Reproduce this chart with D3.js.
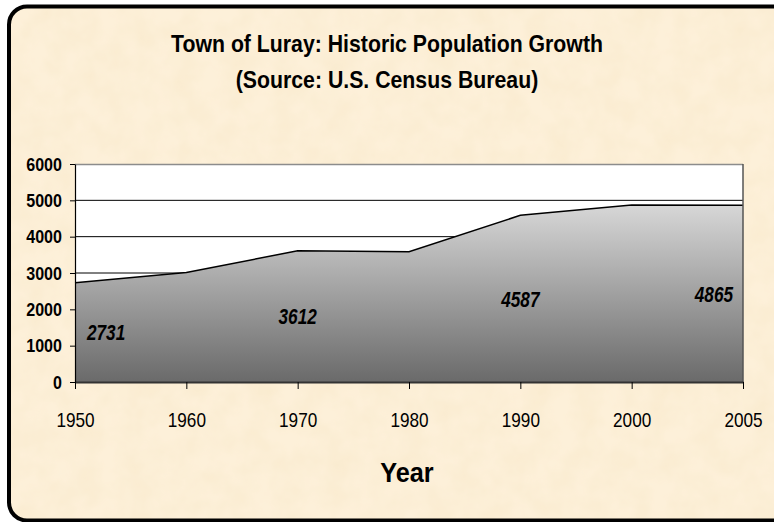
<!DOCTYPE html>
<html>
<head>
<meta charset="utf-8">
<script src="https://cdn.jsdelivr.net/npm/d3@7"></script>
<style>
  body { margin: 0; background: #fff; }
  svg { display: block; font-family: Arial, "Liberation Sans", sans-serif; }
</style>
</head>
<body>
<div id="chart"></div>
<script>
// Datos del gráfico
var years = ["1950", "1960", "1970", "1980", "1990", "2000", "2005"];
var population = [2731, 3014, 3612, 3584, 4587, 4871, 4865];
var labelYears = ["1950", "1970", "1990", "2005"];
var yTicks = [0, 1000, 2000, 3000, 4000, 5000, 6000];

var width = 774, height = 522;
var plot = { left: 75, right: 743, top: 164, bottom: 382 };

var svg = d3.select("#chart").append("svg")
    .attr("width", width)
    .attr("height", height);

var defs = svg.append("defs");

// textura de pergamino
var filt = defs.append("filter").attr("id", "paper")
    .attr("x", 0).attr("y", 0).attr("width", "100%").attr("height", "100%");
filt.append("feTurbulence")
    .attr("type", "fractalNoise")
    .attr("baseFrequency", 0.04)
    .attr("numOctaves", 3)
    .attr("seed", 4)
    .attr("result", "noise");
filt.append("feColorMatrix")
    .attr("in", "noise")
    .attr("type", "matrix")
    .attr("values", "0 0 0 0 0.85  0 0 0 0 0.70  0 0 0 0 0.42  0 0 0 0.32 -0.09")
    .attr("result", "tint");
filt.append("feComposite").attr("in", "tint").attr("in2", "SourceGraphic").attr("operator", "in");

var grad = defs.append("linearGradient").attr("id", "areaGrad")
    .attr("gradientUnits", "userSpaceOnUse")
    .attr("x1", 0).attr("x2", 0)
    .attr("y1", 200).attr("y2", plot.bottom);
grad.append("stop").attr("offset", "0%").attr("stop-color", "#dadada");
grad.append("stop").attr("offset", "100%").attr("stop-color", "#6a6a6a");

// texto estrecho (el original se ve comprimido en horizontal)
function narrow(sel, x, y, sx) {
    return sel.attr("transform", "translate(" + x + "," + y + ") scale(" + sx + ",1)");
}

// Fondo con borde redondeado
var frame = { x: 9, y: 6.5, w: 800, h: 514, r: 18 };
svg.append("rect")
    .attr("x", frame.x).attr("y", frame.y)
    .attr("width", frame.w).attr("height", frame.h)
    .attr("rx", frame.r).attr("ry", frame.r)
    .attr("fill", "#fdf0d9");
svg.append("rect")
    .attr("x", frame.x).attr("y", frame.y)
    .attr("width", frame.w).attr("height", frame.h)
    .attr("rx", frame.r).attr("ry", frame.r)
    .attr("fill", "#fdf0d9")
    .attr("filter", "url(#paper)");
svg.append("rect")
    .attr("x", frame.x).attr("y", frame.y)
    .attr("width", frame.w).attr("height", frame.h)
    .attr("rx", frame.r).attr("ry", frame.r)
    .attr("fill", "none")
    .attr("stroke", "#000")
    .attr("stroke-width", 4);

// Títulos
svg.append("text")
    .call(narrow, 387, 52, 0.925)
    .attr("text-anchor", "middle")
    .attr("font-weight", "bold")
    .attr("font-size", "23px")
    .text("Town of Luray: Historic Population Growth");
svg.append("text")
    .call(narrow, 387, 88, 0.925)
    .attr("text-anchor", "middle")
    .attr("font-weight", "bold")
    .attr("font-size", "23px")
    .text("(Source: U.S. Census Bureau)");

// Escalas
var x = d3.scalePoint().domain(years).range([plot.left, plot.right]);
var y = d3.scaleLinear().domain([0, 6000]).range([plot.bottom, plot.top]);

// Área de trazado blanca
svg.append("rect")
    .attr("x", plot.left).attr("y", plot.top)
    .attr("width", plot.right - plot.left)
    .attr("height", plot.bottom - plot.top)
    .attr("fill", "#fff");

// Líneas de cuadrícula
svg.selectAll("line.grid")
    .data(yTicks.filter(d => d > 0 && d < 6000))
    .enter().append("line")
    .attr("class", "grid")
    .attr("x1", plot.left).attr("x2", plot.right)
    .attr("y1", d => y(d)).attr("y2", d => y(d))
    .attr("stroke", "#000")
    .attr("stroke-width", 1);

// Área
var data = years.map((yr, i) => ({ year: yr, value: population[i] }));
var area = d3.area()
    .x(d => x(d.year))
    .y0(plot.bottom)
    .y1(d => y(d.value));
var line = d3.line()
    .x(d => x(d.year))
    .y(d => y(d.value));

svg.append("path")
    .datum(data)
    .attr("d", area)
    .attr("fill", "url(#areaGrad)");
svg.append("path")
    .datum(data)
    .attr("d", line)
    .attr("fill", "none")
    .attr("stroke", "#000")
    .attr("stroke-width", 1.5);

// Bordes del área de trazado
svg.append("line")
    .attr("x1", plot.left).attr("x2", plot.right)
    .attr("y1", plot.top + 0.5).attr("y2", plot.top + 0.5)
    .attr("stroke", "#8c8c8c").attr("stroke-width", 1.5);
svg.append("line")
    .attr("x1", plot.right).attr("x2", plot.right)
    .attr("y1", plot.top).attr("y2", plot.bottom)
    .attr("stroke", "#555").attr("stroke-width", 1.5);

// Ejes
var xAxis = svg.append("g")
    .attr("transform", "translate(0," + plot.bottom + ")")
    .call(d3.axisBottom(x).tickSize(7).tickPadding(0).tickSizeOuter(0));
xAxis.select(".domain").attr("stroke", "#333").attr("stroke-width", 2);
xAxis.selectAll(".tick line").attr("stroke", "#000");
xAxis.selectAll("text")
    .attr("y", 0).attr("dy", null)
    .attr("transform", "translate(0,45) scale(0.86,1)")
    .attr("font-family", "Arial, 'Liberation Sans', sans-serif")
    .attr("font-size", "20px")
    .attr("fill", "#000");

var yAxis = svg.append("g")
    .attr("transform", "translate(" + plot.left + ",0)")
    .call(d3.axisLeft(y).tickValues(yTicks).tickSize(5).tickPadding(8).tickSizeOuter(0).tickFormat(d3.format("d")));
yAxis.select(".domain").attr("stroke", "#000").attr("stroke-width", 1.2);
yAxis.selectAll(".tick line").attr("stroke", "#000");
yAxis.selectAll("text")
    .attr("x", 0).attr("dy", null)
    .attr("transform", "translate(-13,6) scale(0.92,1)")
    .attr("font-family", "Arial, 'Liberation Sans', sans-serif")
    .attr("font-size", "17.5px")
    .attr("font-weight", "bold")
    .attr("fill", "#000");

// Etiquetas de valores
var labels = data.filter(d => labelYears.indexOf(d.year) >= 0);
svg.selectAll("text.value")
    .data(labels)
    .enter().append("text")
    .attr("class", "value")
    .each(function (d, i) {
        var lx = i === 0 ? x(d.year) + 12 : (i === labels.length - 1 ? x(d.year) - 10 : x(d.year));
        d3.select(this).call(narrow, lx, y(d.value / 2) + 8, 0.8);
    })
    .attr("text-anchor", (d, i) => i === 0 ? "start" : (i === labels.length - 1 ? "end" : "middle"))
    .attr("font-size", "21.5px")
    .attr("font-weight", "bold")
    .attr("font-style", "italic")
    .text(d => d.value);

// Título del eje X
svg.append("text")
    .call(narrow, 407, 482, 0.92)
    .attr("text-anchor", "middle")
    .attr("font-weight", "bold")
    .attr("font-size", "27.5px")
    .text("Year");
</script>
</body>
</html>
